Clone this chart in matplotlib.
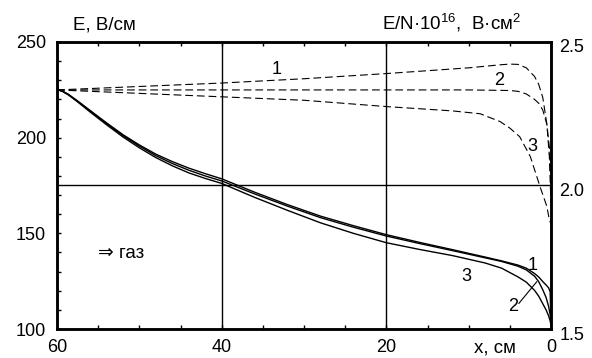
import matplotlib.pyplot as plt
import matplotlib.transforms as mtransforms
from matplotlib.ticker import MultipleLocator

plt.rcParams['font.family'] = ['Liberation Sans', 'DejaVu Sans']
plt.rcParams['mathtext.fontset'] = 'custom'
plt.rcParams['mathtext.rm'] = 'Liberation Sans'
plt.rcParams['mathtext.it'] = 'Liberation Sans'

# Поле E (левая ось), три режима
x_e = [60, 59.97, 59.85, 59.3, 58.6, 57.5, 56, 54, 52, 50, 48, 46, 44, 42, 40, 36, 32, 28, 24,
       20, 16, 12, 8, 6, 4, 3, 2, 1.5, 1, 0.6, 0.3, 0.1, 0]
e1 = [250, 227, 225, 224.2, 222.6, 219.2, 214.3, 207.8, 201.6, 196.2, 191.4, 187.5, 184.1, 181.2, 178.5,
      171.5, 165, 159, 154, 149.3, 145.3, 141.5, 137.6, 135.6, 133.4, 131.8, 129, 127.2, 124.8, 123,
      121.6, 119.5, 103]
e2 = [250, 227, 225, 224.2, 222.5, 219.0, 214.0, 207.4, 201.1, 195.6, 190.6, 186.5, 183.0, 180.0, 177.4,
      170.6, 164.2, 158.2, 153.2, 148.6, 144.7, 141.0, 137.2, 135.3, 132.8, 130.9, 127.6, 124.8, 120.5,
      116.5, 112, 107.5, 102.5]
e3 = [250, 227, 225, 224.1, 222.3, 218.7, 213.5, 206.8, 200.4, 194.7, 189.6, 185.3, 181.6, 178.7, 176.1,
      168.8, 162, 155.5, 150, 145.1, 141.6, 138.4, 134.5, 131.8, 127.2, 124.5, 120.2, 117.2, 113.2,
      110, 107, 104.2, 102]

# Приведённое поле E/N (правая ось)
x1 = [60, 50, 40, 30, 20, 10, 6, 5, 4, 3, 2, 1.5, 1, 0.5, 0.2, 0]
en1 = [2.333, 2.345, 2.357, 2.372, 2.39, 2.41, 2.421, 2.423, 2.422, 2.41, 2.38, 2.353, 2.307, 2.213, 2.1, 1.933]
x2 = [60, 40, 20, 10, 5, 4, 3, 2, 1.5, 1, 0.5, 0.2, 0]
en2 = [2.333, 2.333, 2.333, 2.333, 2.331, 2.328, 2.319, 2.30, 2.287, 2.263, 2.213, 2.133, 2.0]
x3 = [60, 50, 40, 30, 20, 12, 8.6, 6.2, 5, 3.8, 2.5, 1.3, 0.5, 0.2, 0]
en3 = [2.333, 2.321, 2.309, 2.297, 2.275, 2.26, 2.25, 2.223, 2.2, 2.17, 2.1, 1.993, 1.927, 1.88, 1.867]

W, H = 592, 358
fs = 13


def px(x, y):
    # координаты в пикселях картинки -> доли фигуры
    return x / W, 1 - y / H


fig = plt.figure(figsize=(W / 100, H / 100), dpi=100)
ax = fig.add_axes([57 / W, 1 - 329 / H, 494 / W, 287 / H])
ax2 = ax.twinx()

for yy in (e1, e2, e3):
    ax.plot(x_e, yy, color='black', lw=1.0)

for xx, yy in [(x1, en1), (x2, en2), (x3, en3)]:
    ax2.plot(xx, yy, color='black', lw=0.8, dashes=(7, 3.5))

ax.set_xlim(60, 0)
ax.set_ylim(100, 250)
ax2.set_ylim(1.5, 2.5)

# сетка
for xv in [40, 20]:
    ax.axvline(xv, color='black', lw=1.0)
ax.axhline(175, color='black', lw=1.0)

ax.set_xticks([60, 40, 20, 0])
ax.set_xticklabels(['60', '40', '20', '0'])
ax.xaxis.set_minor_locator(MultipleLocator(5))
ax.set_yticks([100, 150, 200, 250])
ax.yaxis.set_minor_locator(MultipleLocator(10))
ax.tick_params(axis='x', which='both', direction='in', length=3, width=1, top=True,
               labelsize=fs, pad=7)
ax.tick_params(axis='y', which='both', direction='in', length=3, width=1,
               labelsize=fs, pad=8)
ax2.set_yticks([1.5, 2.0, 2.5])
ax2.set_yticklabels(['1.5', '2.0', '2.5'])
ax2.tick_params(axis='y', direction='in', length=0, labelsize=fs, pad=6)
shift = mtransforms.ScaledTranslation(0, -0.04, fig.dpi_scale_trans)
for lab in ax2.get_yticklabels():
    lab.set_transform(lab.get_transform() + shift)

for a in (ax, ax2):
    for s in a.spines.values():
        s.set_linewidth(1.8)

# подписи осей
fig.text(*px(104, 25), 'E, В/см', fontsize=13.5, va='center', ha='center')
fig.text(*px(452, 23), 'E/N·10$^{16}$,  В·см$^{2}$', fontsize=13.5, va='center', ha='center')
fig.text(*px(495, 348), 'x, см', fontsize=13.5, va='center', ha='center')
fig.text(*px(121, 253), '⇒ газ', fontsize=13.5, va='center', ha='center')

ax.text(33.3, 235.4, '1', fontsize=fs, ha='center', va='center')
ax.text(6.3, 230.1, '2', fontsize=fs, ha='center', va='center')
ax.text(2.3, 195.6, '3', fontsize=fs, ha='center', va='center')

ax.text(2.2, 133.4, '1', fontsize=fs, ha='center', va='center')
ax.text(4.6, 111.5, '2', fontsize=fs, ha='center', va='center')
ax.text(10.3, 127.2, '3', fontsize=fs, ha='center', va='center')
ax.plot([3.9, 1.73], [113.4, 124.7], color='black', lw=0.8)

plt.savefig('out.png', dpi=100)
